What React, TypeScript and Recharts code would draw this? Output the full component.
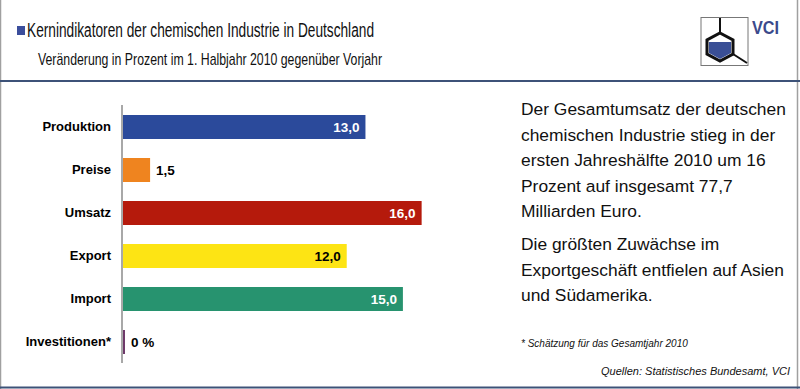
import React from 'react'
import { BarChart, Bar, XAxis, YAxis, Cell, LabelList } from 'recharts'

const categories = ['Produktion', 'Preise', 'Umsatz', 'Export', 'Import', 'Investitionen*']
const changes = [13.0, 1.5, 16.0, 12.0, 15.0, 0]
const barColors = ['#2b4a9b', '#ef841f', '#b51a0c', '#fde414', '#27936f', '#6e3a6a']
const labelColors = ['#fff', '#000', '#fff', '#000', '#fff', '#000']

const title = 'Kernindikatoren der chemischen Industrie in Deutschland'
const subtitle = 'Veränderung in Prozent im 1. Halbjahr 2010 gegenüber Vorjahr'
const para1 = [
  'Der Gesamtumsatz der deutschen',
  'chemischen Industrie stieg in der',
  'ersten Jahreshälfte 2010 um 16',
  'Prozent auf insgesamt 77,7',
  'Milliarden Euro.',
]
const para2 = [
  'Die größten Zuwächse im',
  'Exportgeschäft entfielen auf Asien',
  'und Südamerika.',
]
const footnote = '* Schätzung für das Gesamtjahr 2010'
const source = 'Quellen: Statistisches Bundesamt, VCI'

const data = categories.map((c, i) => ({ name: c, value: changes[i] }))

const fmt = (v: number) => (v === 0 ? '0 %' : v.toFixed(1).replace('.', ','))

const FONT = 'Liberation Sans, Arial, sans-serif'

const ValueLabel = (props: any) => {
  const { x, y, width, height, value, index } = props
  const inside = value >= 5
  const tx = inside ? x + width - 6 : x + width + 6
  return (
    <text x={tx} y={y + height / 2} dy={5} textAnchor={inside ? 'end' : 'start'}
      fill={labelColors[index]} fontSize={13.5} fontWeight="bold" fontFamily={FONT}>
      {fmt(value)}
    </text>
  )
}

export default function App() {
  return (
    <div style={{ position: 'absolute', left: 0, top: 0, width: 800, height: 389, background: '#fff', overflow: 'hidden' }}>
      <svg width={800} height={389} style={{ position: 'absolute', left: 0, top: 0 }}>
        <line x1={0.5} y1={0} x2={0.5} y2={389} stroke="#a0a0a0" strokeWidth={1.5}/>
        <line x1={797.5} y1={0} x2={797.5} y2={389} stroke="#a0a0a0" strokeWidth={1.5}/>
        <line x1={0} y1={81} x2={800} y2={81} stroke="#3d5278" strokeWidth={2}/>
        <line x1={0} y1={387.5} x2={800} y2={387.5} stroke="#3d5278" strokeWidth={2}/>
        <rect x={17} y={26} width={8} height={9} fill="#3b4e9c"/>
        <text x={27} y={37} fontSize={20} fontFamily={FONT} fill="#111" textLength={347} lengthAdjust="spacingAndGlyphs">{title}</text>
        <text x={38} y={65} fontSize={17} fontFamily={FONT} fill="#111" textLength={344} lengthAdjust="spacingAndGlyphs">{subtitle}</text>
        {/* logo */}
        <rect x={701} y={17.5} width={47} height={48} fill="#fff" stroke="#777" strokeWidth={1}/>
        <line x1={720} y1={18} x2={720} y2={33} stroke="#111" strokeWidth={2}/>
        <polygon points="720,33 733,40 733,54 720,61 707,54 707,40" fill="none" stroke="#111" strokeWidth={3}/>
        <polygon points="709,42 731,42 731,53 720,59 709,53" fill="#3a4f96"/>
        <line x1={733} y1={54} x2={747} y2={63} stroke="#111" strokeWidth={2}/>
        <text x={752} y={34} fontSize={19} fontWeight="bold" fontFamily={FONT} fill="#3b4a8c" textLength={27} lengthAdjust="spacingAndGlyphs">VCI</text>
        {para1.map((t, i) => (
          <text key={t} x={521} y={115 + i * 25.5} fontSize={17.4} fontFamily={FONT} fill="#111">{t}</text>
        ))}
        {para2.map((t, i) => (
          <text key={t} x={521} y={250 + i * 25.5} fontSize={17.4} fontFamily={FONT} fill="#111">{t}</text>
        ))}
        <text x={521} y={347} fontSize={10} fontStyle="italic" fontFamily={FONT} fill="#111">{footnote}</text>
        <text x={790} y={375} fontSize={11} fontStyle="italic" fontFamily={FONT} fill="#111" textAnchor="end">{source}</text>
      </svg>
      <div style={{ position: 'absolute', left: 0, top: 105 }}>
        <BarChart width={480} height={258} data={data} layout="vertical"
          margin={{ top: 0, right: 49, bottom: 0, left: 0 }} barCategoryGap={0}>
          <XAxis type="number" domain={[0, 16.5]} hide/>
          <YAxis type="category" dataKey="name" width={122} axisLine={{ stroke: '#a8a8a8', strokeWidth: 2 }}
            tickLine={false} tickMargin={5}
            tick={{ fill: '#000', fontSize: 13, fontWeight: 'bold', fontFamily: FONT }}/>
          <Bar dataKey="value" barSize={24} minPointSize={3} isAnimationActive={false}>
            {data.map((d, i) => <Cell key={d.name} fill={barColors[i]}/>)}
            <LabelList dataKey="value" content={<ValueLabel/>}/>
          </Bar>
        </BarChart>
      </div>
    </div>
  )
}
